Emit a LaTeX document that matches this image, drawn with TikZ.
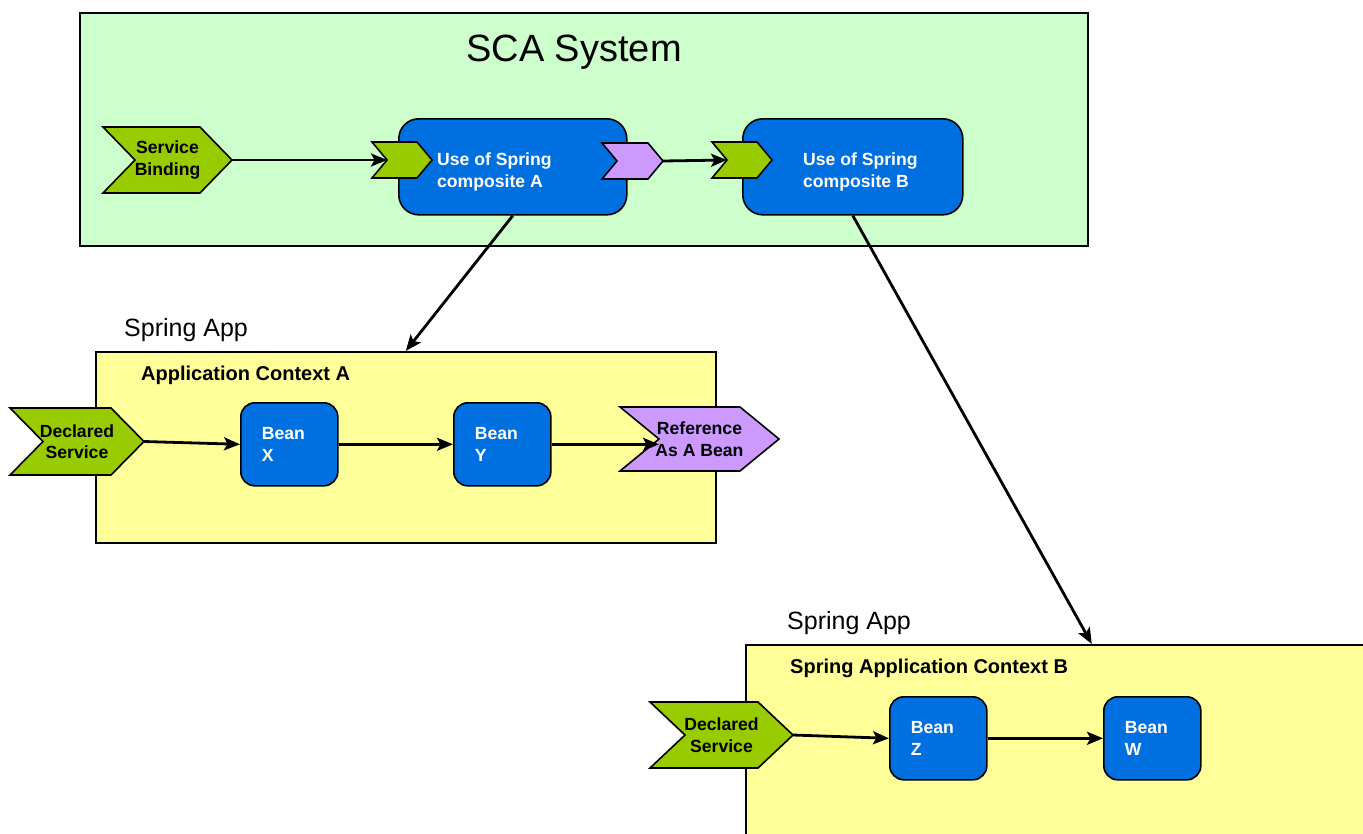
\documentclass[tikz,border=0pt]{standalone}
\usepackage{fontspec}
\setmainfont{Liberation Sans}
\usetikzlibrary{positioning,arrows.meta}
\definecolor{scagreen}{HTML}{CCFFCC}
\definecolor{ctxyellow}{HTML}{FFFF99}
\definecolor{compblue}{HTML}{0070E0}
\definecolor{svcgreen}{HTML}{99CC00}
\definecolor{refpurple}{HTML}{CC99FF}

% chevron: name, left, top, width, height, point, fill, text
\newcommand\chevron[8]{%
  \draw[chevline,fill=#7] (#2,#3) -- ++(#4-#6,0) -- ++(#6,#5/2) -- ++(-#6,#5/2)
    -- ++(-#4+#6,0) -- ++(#6,-#5/2) -- cycle;
  \coordinate (#1-tip) at (#2+#4,#3+#5/2);
  \coordinate (#1-notch) at (#2+#6,#3+#5/2);
  \node[chevtext] (#1) at (#2+#4/2,#3+#5/2) {#8};
}

\begin{document}
\begin{tikzpicture}[x=1pt,y=-1pt,
    boxline/.style={draw=black,line width=1.6pt},
    chevline/.style={draw=black,line width=1.6pt,line join=miter},
    chevtext/.style={inner sep=0pt,align=center,font=\fontsize{17.6}{21.5}\selectfont\bfseries},
    scabox/.style={boxline,fill=scagreen,anchor=north west,inner sep=0pt,minimum width=1008pt,minimum height=233pt},
    ctxbox/.style={boxline,fill=ctxyellow,anchor=north west,inner sep=0pt},
    compbox/.style={boxline,fill=compblue,rounded corners=20pt,anchor=north west,minimum height=96pt},
    comptext/.style={inner sep=0pt,align=left,text=white,font=\fontsize{17.6}{21.5}\selectfont\bfseries},
    beanbox/.style={boxline,fill=compblue,rounded corners=14pt,anchor=north west,
      minimum width=97pt,minimum height=83pt,text width=55pt,inner xsep=21pt,align=left,
      text=white,font=\fontsize{17.6}{21.5}\selectfont\bfseries},
    ctxtitle/.style={inner sep=0pt,anchor=west,font=\fontsize{20}{24}\selectfont\bfseries},
    applabel/.style={inner sep=0pt,font=\fontsize{25}{30}\selectfont},
    scatitle/.style={inner sep=0pt,font=\fontsize{38}{45}\selectfont},
    flow/.style={line width=2.8pt,-{Stealth[length=16pt,width=13pt,inset=3.5pt]}}]
  \useasboundingbox (0,0) rectangle (1363,833);
  \clip (0,0) rectangle (1363,833);

  % SCA system
  \node[scabox] (sca) at (79,12) {};
  \node[scatitle] (scaTitle) at (574,52) {SCA System};
  \node[compbox,minimum width=228pt] (compA) at (398,118) {};
  \node[compbox,minimum width=220pt] (compB) at (742,118) {};
  \node[comptext,right=39pt of compA.west,yshift=-5pt] (compAtext) {Use of Spring\\composite A};
  \node[comptext,right=61pt of compB.west,yshift=-5pt] (compBtext) {Use of Spring\\composite B};
  \chevron{svc}{103}{127}{129}{66}{32}{svcgreen}{Service\\Binding}
  \chevron{inA}{372}{142}{60}{36}{15}{svcgreen}{}
  \chevron{outA}{602}{143}{61}{36}{15}{refpurple}{}
  \chevron{inB}{712}{142}{60}{36}{15}{svcgreen}{}
  \draw[flow] (svc-tip) -- (inA-notch);
  \draw[flow] (outA-tip) -- (inB-notch);

  % spring app A
  \node[ctxbox,minimum width=620pt,minimum height=191pt] (ctxA) at (95,351) {};
  \node[applabel,above right=9pt and 29pt of ctxA.north west] (appA) {Spring App};
  \node[ctxtitle] (ctxAtitle) at (141,375) {Application Context A};
  \node[beanbox] (beanX) at (240,402) {Bean\\X};
  \node[beanbox] (beanY) at (453,402) {Bean\\Y};
  \chevron{declA}{10}{408}{134}{67}{33}{svcgreen}{Declared\\Service}
  \chevron{refA}{620}{407}{159}{64}{39}{refpurple}{Reference\\As A Bean}
  \draw[flow] (declA-tip) -- (beanX.west);
  \draw[flow] (beanX.east) -- (beanY.west);
  \draw[flow] (beanY.east) -- (beanY.east -| refA-notch);

  % spring app B
  \node[ctxbox,minimum width=692pt,minimum height=230pt] (ctxB) at (745,644) {};
  \node[applabel,above right=9pt and 42pt of ctxB.north west] (appB) {Spring App};
  \node[ctxtitle] (ctxBtitle) at (790,668) {Spring Application Context B};
  \node[beanbox] (beanZ) at (889,696) {Bean\\Z};
  \node[beanbox] (beanW) at (1103,696) {Bean\\W};
  \chevron{declB}{650}{702}{143}{66}{35}{svcgreen}{Declared\\Service}
  \draw[flow] (declB-tip) -- (beanZ.west);
  \draw[flow] (beanZ.east) -- (beanW.west);

  % composites to spring apps
  \draw[flow] (compA.south) -- (ctxA.north);
  \draw[flow] (compB.south) -- (ctxB.north);
\end{tikzpicture}
\end{document}
